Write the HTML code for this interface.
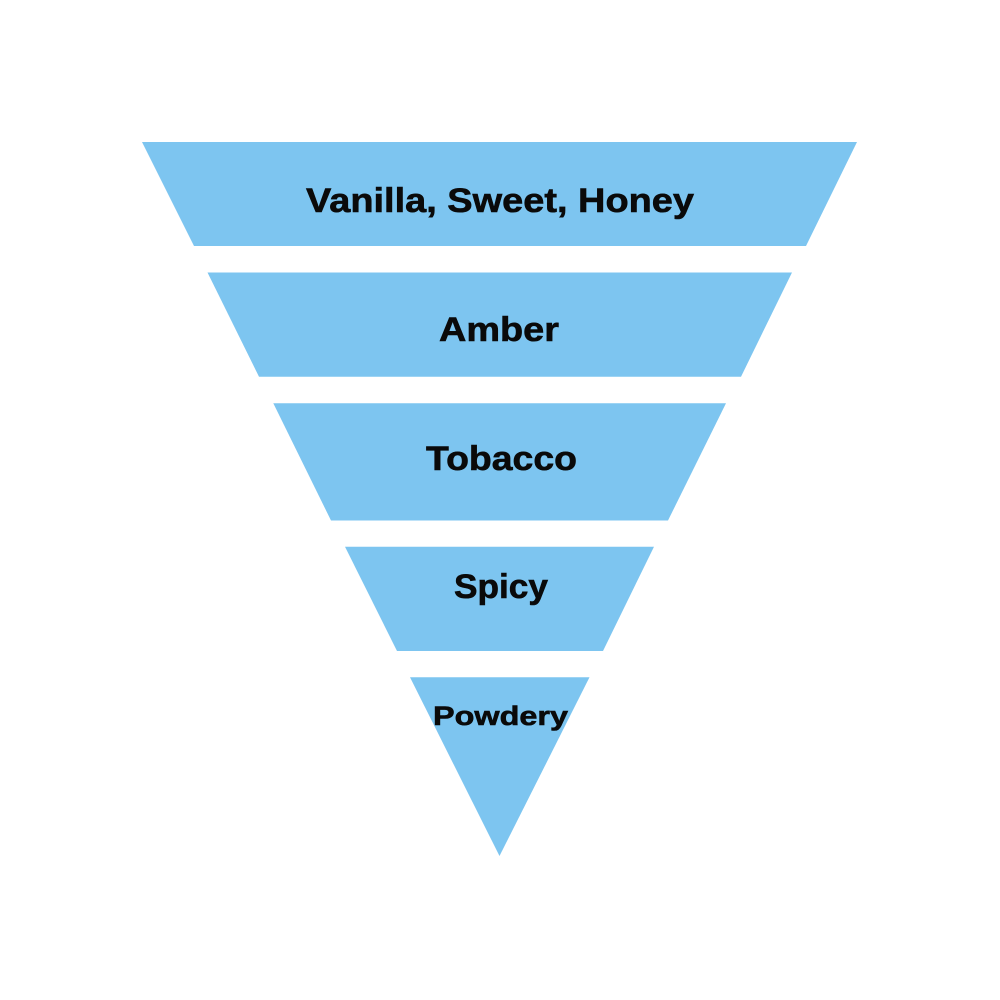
<!DOCTYPE html>
<html>
<head>
<meta charset="utf-8">
<style>
  html, body { margin: 0; padding: 0; background: #ffffff; }
  svg { display: block; }
  text { font-family: "Liberation Sans", Arial, sans-serif; font-weight: bold; fill: #0a0a0a; stroke: #0a0a0a; stroke-width: 0.6; }
</style>
</head>
<body>
<svg width="1000" height="1000" viewBox="0 0 1000 1000" xmlns="http://www.w3.org/2000/svg">
  <rect width="1000" height="1000" fill="#ffffff"/>
  <g fill="#7dc5f0">
    <polygon points="142,142 857,142 806,246 194,246"/>
    <polygon points="207.5,272.5 792,272.5 741,376.7 259,376.7"/>
    <polygon points="273.3,403.3 726,403.3 668,520.5 331,520.5"/>
    <polygon points="345,546.7 654,546.7 603,651 397,651"/>
    <polygon points="410,677.3 589.5,677.3 499.5,856"/>
  </g>
  <text x="500" y="212" font-size="34" text-anchor="middle" textLength="388" lengthAdjust="spacingAndGlyphs">Vanilla, Sweet, Honey</text>
  <text x="499" y="341" font-size="34" text-anchor="middle" textLength="120" lengthAdjust="spacingAndGlyphs">Amber</text>
  <text x="501.5" y="470" font-size="34" text-anchor="middle" textLength="151" lengthAdjust="spacingAndGlyphs">Tobacco</text>
  <text x="501" y="598" font-size="34" text-anchor="middle" textLength="94" lengthAdjust="spacingAndGlyphs">Spicy</text>
  <text x="500.5" y="725" font-size="27" text-anchor="middle" textLength="135" lengthAdjust="spacingAndGlyphs">Powdery</text>
</svg>
</body>
</html>
